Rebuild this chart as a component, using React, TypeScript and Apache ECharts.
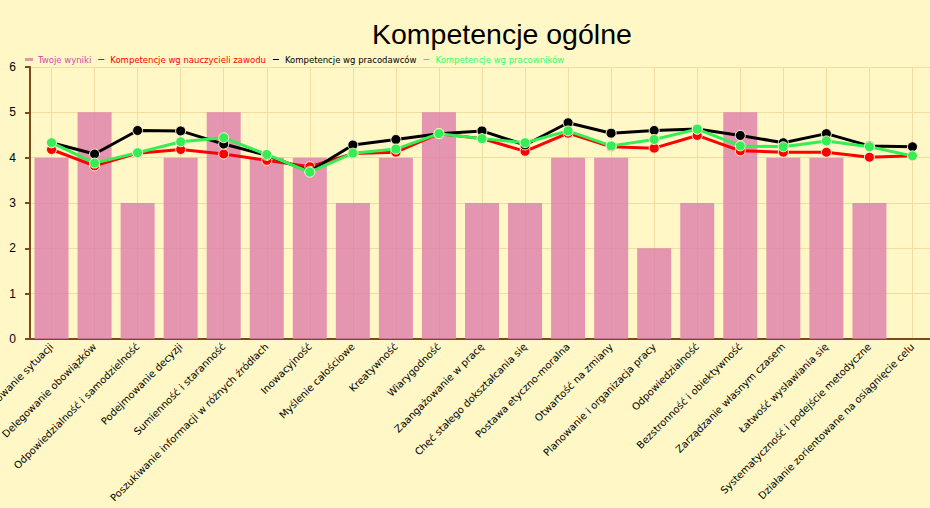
import React, { useEffect, useRef } from "react";
import * as echarts from "echarts";

const categories = [
  "Analizowanie sytuacji",
  "Delegowanie obowiązków",
  "Odpowiedzialność i samodzielność",
  "Podejmowanie decyzji",
  "Sumienność i staranność",
  "Poszukiwanie informacji w różnych źródłach",
  "Inowacyjność",
  "Myślenie całościowe",
  "Kreatywność",
  "Wiarygodność",
  "Zaangażowanie w pracę",
  "Chęć stałego dokształcania się",
  "Postawa etyczno-moralna",
  "Otwartość na zmiany",
  "Planowanie i organizacja pracy",
  "Odpowiedzialność",
  "Bezstronność i obiektywność",
  "Zarządzanie własnym czasem",
  "Łatwość wysławiania się",
  "Systematyczność i podejście metodyczne",
  "Działanie zorientowane na osiągnięcie celu",
];

const twojeWyniki = [4, 5, 3, 4, 5, 4, 4, 3, 4, 5, 3, 3, 4, 4, 2, 3, 5, 4, 4, 3, null];
const nauczyciele = [4.18, 3.82, 4.1, 4.18, 4.08, 3.94, 3.8, 4.09, 4.12, 4.53, 4.42, 4.14, 4.54, 4.24, 4.21, 4.49, 4.15, 4.12, 4.12, 4.01, 4.04];
const pracodawcy = [4.33, 4.08, 4.6, 4.59, 4.3, 4.05, 3.7, 4.28, 4.4, 4.53, 4.59, 4.28, 4.77, 4.54, 4.6, 4.63, 4.49, 4.33, 4.53, 4.26, 4.24];
const pracownicy = [4.33, 3.88, 4.11, 4.35, 4.44, 4.07, 3.68, 4.1, 4.19, 4.53, 4.42, 4.33, 4.59, 4.26, 4.4, 4.63, 4.26, 4.24, 4.37, 4.24, 4.04];

const seriesNames = [
  "Twoje wyniki",
  "Kompetencje wg nauczycieli zawodu",
  "Kompetencje wg pracodawców",
  "Kompetencje wg pracowników",
];
const legendColors = ["#d04aa8", "#ff0000", "#000000", "#33ff66"];
const yTicks = [0, 1, 2, 3, 4, 5, 6];

export default function App() {
  const ref = useRef<HTMLDivElement>(null);
  useEffect(() => {
    document.body.style.margin = "0";
    const chart = echarts.init(ref.current!, null, { renderer: "svg" });
    const lineSeries = (name: string, data: number[], color: string, z: number) => ({
      name,
      type: "line",
      data,
      z,
      symbol: "circle",
      symbolSize: 10,
      lineStyle: { color, width: 3 },
      itemStyle: { color, borderColor: "#fff3d0", borderWidth: 1 },
    });
    const axisColor = "#7a4a1c";
    chart.setOption({
      animation: false,
      backgroundColor: "#fff8c6",
      title: {
        text: "Kompetencje ogólne",
        left: 367,
        top: 14,
        textStyle: { fontFamily: "Liberation Sans", fontSize: 28.5, fontWeight: "normal", color: "#000" },
      },
      legend: {
        left: 20,
        top: 50,
        icon: "rect",
        itemWidth: 8,
        itemHeight: 3,
        itemGap: 5,
        textStyle: { fontSize: 8.5, fontFamily: "DejaVu Sans" },
        data: seriesNames.map((n, i) => ({ name: n, textStyle: { color: legendColors[i] } })),
      },
      grid: { left: 30, right: -4, top: 67, bottom: 169, containLabel: false, outerBoundsMode: "none" },
      xAxis: {
        type: "category",
        data: categories,
        boundaryGap: true,
        axisLine: { lineStyle: { color: axisColor, width: 2 } },
        axisTick: { alignWithLabel: true, length: 4, lineStyle: { color: axisColor, width: 2 } },
        axisLabel: { rotate: 45, interval: 0, fontSize: 10, fontFamily: "DejaVu Sans", color: "#000", margin: 6 },
        splitLine: { show: true, interval: 0, alignWithLabel: true, lineStyle: { color: "#f3dca0" } },
      },
      yAxis: {
        type: "value",
        min: yTicks[0],
        max: yTicks[yTicks.length - 1],
        interval: 1,
        axisLine: { show: true, lineStyle: { color: axisColor, width: 2 } },
        axisTick: { show: true, length: 5, lineStyle: { color: axisColor, width: 2 } },
        axisLabel: { fontSize: 12, fontFamily: "Liberation Sans", color: "#000", margin: 14 },
        splitLine: { lineStyle: { color: "#f3dca0" } },
      },
      series: [
        {
          name: seriesNames[0],
          type: "bar",
          data: twojeWyniki,
          barCategoryGap: "21%",
          itemStyle: { color: "rgba(221,124,170,0.8)" },
          z: 1,
        },
        lineSeries(seriesNames[1], nauczyciele, "#ff0000", 2),
        lineSeries(seriesNames[2], pracodawcy, "#000000", 3),
        lineSeries(seriesNames[3], pracownicy, "#33ee55", 4),
      ],
    });
    return () => chart.dispose();
  }, []);
  return <div ref={ref} style={{ width: 930, height: 508 }} />;
}
